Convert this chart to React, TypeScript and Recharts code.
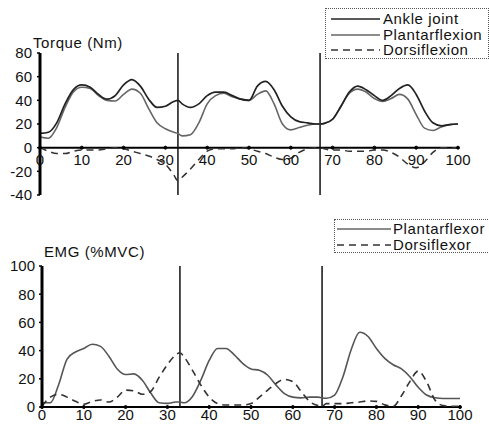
import React from 'react';
import { LineChart, Line, XAxis, YAxis, ReferenceLine, ReferenceDot, Legend } from 'recharts';

// gait cycle (%) sample points
const X = [0, 2, 4, 6, 8, 10, 12, 14, 16, 18, 20, 22, 24, 26, 28, 30, 32, 33, 34, 36, 38, 40, 42, 44, 46, 48, 50, 52, 54, 56, 58, 60, 62, 64, 66, 67, 68, 70, 72, 74, 76, 78, 80, 82, 84, 86, 88, 90, 92, 94, 96, 98, 100];

// Torque (Nm)
const ANKLE_JOINT = [12, 13, 21, 37, 49, 53, 51, 45, 41, 44, 53, 57.5, 52, 41, 34, 35, 39, 40, 37, 34, 37, 44, 47, 47, 44, 41, 40, 52, 56, 49, 35, 26, 22, 21, 20, 20, 20.5, 24, 35, 47, 52, 49, 44, 40, 44, 50, 53, 45, 31, 21, 18.5, 19.5, 20];
const PLANTARFLEXION = [9, 8, 17, 34, 47, 51, 50, 44, 40, 39.5, 45, 49.5, 46, 33, 21, 16, 13, 12, 10, 11, 21, 37, 44, 46, 43, 41, 40, 45, 48, 37, 20, 15, 17, 19, 20, 20, 20.5, 24, 35, 46, 49.5, 47, 41.5, 39, 41.5, 45, 41, 28, 16.5, 14.5, 17.5, 19.5, 20];
const DORSIFLEXION = [0, -3, -5, -5, -3, -2, -2, -2, -1, 0, -1, -3, -5, -7, -10, -14, -23, -28, -25, -18, -10, -3, -1, -1, -1, 0, -1, -3, -5, -8, -10, -9, -4, -1, 0, 0, -1, -2, -2, -3, -3, -3, -2, -2, -4, -8, -14, -17, -12, -4, 0, 0, 0];

// EMG (%MVC)
const PLANTARFLEXOR = [3, 3, 16, 34, 39, 41.5, 44.5, 43, 36, 27, 23, 23.5, 19, 10, 3, 2.6, 3.5, 3.5, 3, 7.5, 19, 33, 41.5, 41.5, 37, 31, 27, 26, 22.5, 15.5, 9.5, 7, 6.5, 7, 7, 6.5, 6.2, 8.5, 21.5, 41, 53, 50, 41.5, 34.5, 30, 27, 21.5, 14, 8.5, 6.5, 6, 6, 6];
const DORSIFLEXOR = [0.5, 7, 9, 7, 4, 2, 4, 5, 3.5, 7, 12, 11.5, 9, 11, 21, 30, 37, 38.5, 35.5, 26, 15.5, 7, 2.4, 1.4, 1.4, 1.4, 2.4, 7, 12, 16.8, 19.6, 18, 11, 4, 1, 0.5, 2.4, 2.4, 2.4, 3, 3.5, 4.3, 4, 1.5, 0.5, 8, 18, 25.5, 18, 5, 1, 0.5, 0.5];

const X_TICKS = [0, 10, 20, 30, 40, 50, 60, 70, 80, 90, 100];
const TORQUE_TICKS = [-40, -20, 0, 20, 40, 60, 80];
const EMG_TICKS = [0, 20, 40, 60, 80, 100];
const PHASE_LINES = [33, 67];

const TORQUE_LEGEND = [
  { name: 'Ankle joint', color: '#222', dash: undefined as string | undefined },
  { name: 'Plantarflexion', color: '#666', dash: undefined as string | undefined },
  { name: 'Dorsiflexion', color: '#333', dash: '7 5' },
];
const EMG_LEGEND = [
  { name: 'Plantarflexor', color: '#666', dash: undefined as string | undefined },
  { name: 'Dorsiflexor', color: '#333', dash: '7 5' },
];

const torqueData = X.map((x, i) => ({
  x,
  ankle: ANKLE_JOINT[i],
  plantar: PLANTARFLEXION[i],
  dorsi: DORSIFLEXION[i],
}));
const emgData = X.map((x, i) => ({
  x,
  plantar: PLANTARFLEXOR[i],
  dorsi: DORSIFLEXOR[i],
}));

const FONT = "'Liberation Sans', Arial, Helvetica, sans-serif";

type Item = { name: string; color: string; dash?: string };

const LegendBox = ({
  items, width, height, lineX1, lineX2, textX, rowTop, rowGap,
}: {
  items: Item[]; width: number; height: number; lineX1: number; lineX2: number; textX: number; rowTop: number; rowGap: number;
}) => (
  <div
    style={{
      position: 'relative', width, height, border: '1px dotted #555', background: '#fff',
      boxSizing: 'border-box', fontFamily: FONT,
    }}
  >
    {items.map((it, i) => (
      <div
        key={it.name}
        style={{ position: 'absolute', left: 0, top: rowTop + i * rowGap, height: 14, display: 'flex', alignItems: 'center' }}
      >
        <svg width={textX} height={14} style={{ display: 'block' }}>
          <line x1={lineX1} x2={lineX2} y1={7} y2={7} stroke={it.color} strokeWidth={1.5} strokeDasharray={it.dash} />
        </svg>
        <span style={{ fontSize: 15, letterSpacing: 0.6, color: '#111', whiteSpace: 'nowrap', lineHeight: '14px' }}>
          {it.name}
        </span>
      </div>
    ))}
  </div>
);

const tickStyle = { fill: '#111', fontSize: 15, fontFamily: FONT };

export default function App() {
  return (
    <div
      style={{
        position: 'absolute', left: 0, top: 0, width: 489, height: 429, overflow: 'hidden',
        background: '#fff', fontFamily: FONT,
      }}
    >
      {/* Torque panel */}
      <div style={{ position: 'absolute', left: 0, top: 0 }}>
        <LineChart width={489} height={215} data={torqueData} margin={{ top: 53, right: 31, bottom: 20, left: 0 }}>
          <XAxis dataKey="x" type="number" domain={[0, 100]} ticks={X_TICKS} hide />
          <YAxis
            width={40}
            type="number"
            domain={[-40, 80]}
            ticks={TORQUE_TICKS}
            interval={0}
            axisLine={{ stroke: '#000', strokeWidth: 3 }}
            tickLine={{ stroke: '#000', strokeWidth: 1.5 }}
            tickSize={3}
            tickMargin={5}
            tick={tickStyle}
          />
          <ReferenceLine y={0} stroke="#000" strokeWidth={2} />
          {PHASE_LINES.map((p) => (
            <ReferenceLine key={p} x={p} stroke="#111" strokeWidth={1.5} />
          ))}
          {X_TICKS.map((t) => (
            <ReferenceDot
              key={t}
              x={t}
              y={0}
              r={1.5}
              fill="#000"
              stroke="#000"
              label={{ value: String(t), position: 'bottom', offset: 5, fill: '#111', fontSize: 15 }}
            />
          ))}
          <Line type="monotone" dataKey="plantar" stroke="#666" strokeWidth={1.6} dot={false} isAnimationActive={false} />
          <Line type="monotone" dataKey="ankle" stroke="#222" strokeWidth={1.7} dot={false} isAnimationActive={false} />
          <Line type="monotone" dataKey="dorsi" stroke="#333" strokeWidth={1.5} strokeDasharray="7 5" dot={false} isAnimationActive={false} />
          <Legend
            layout="vertical"
            align="center"
            verticalAlign="middle"
            wrapperStyle={{ top: 8, left: 325, width: 164 }}
            content={() => (
              <LegendBox items={TORQUE_LEGEND} width={164} height={51} lineX1={5} lineX2={54} textX={57} rowTop={3} rowGap={15.5} />
            )}
          />
        </LineChart>
        <div style={{ position: 'absolute', left: 33, top: 35, fontSize: 15, lineHeight: '15px', letterSpacing: 0.6, color: '#111', whiteSpace: 'nowrap' }}>
          Torque (Nm)
        </div>
      </div>

      {/* EMG panel */}
      <div style={{ position: 'absolute', left: 0, top: 215 }}>
        <LineChart width={489} height={214} data={emgData} margin={{ top: 51, right: 29, bottom: 22, left: 0 }}>
          <XAxis dataKey="x" type="number" domain={[0, 100]} ticks={X_TICKS} hide />
          <YAxis
            width={42}
            type="number"
            domain={[0, 100]}
            ticks={EMG_TICKS}
            interval={0}
            axisLine={{ stroke: '#000', strokeWidth: 3 }}
            tickLine={{ stroke: '#000', strokeWidth: 1.5 }}
            tickSize={3}
            tickMargin={4}
            tick={tickStyle}
          />
          <ReferenceLine y={0} stroke="#000" strokeWidth={2} />
          {PHASE_LINES.map((p) => (
            <ReferenceLine key={p} x={p} stroke="#111" strokeWidth={1.5} />
          ))}
          {X_TICKS.map((t) => (
            <ReferenceDot
              key={t}
              x={t}
              y={0}
              r={1.5}
              fill="#000"
              stroke="#000"
              label={{ value: String(t), position: 'bottom', offset: 1, fill: '#111', fontSize: 15 }}
            />
          ))}
          <Line type="monotone" dataKey="plantar" stroke="#555" strokeWidth={1.6} dot={false} isAnimationActive={false} />
          <Line type="monotone" dataKey="dorsi" stroke="#333" strokeWidth={1.6} strokeDasharray="7 5" dot={false} isAnimationActive={false} />
          <Legend
            layout="vertical"
            align="center"
            verticalAlign="middle"
            wrapperStyle={{ top: 4, left: 334, width: 160 }}
            content={() => (
              <LegendBox items={EMG_LEGEND} width={160} height={34} lineX1={2} lineX2={56} textX={58} rowTop={2} rowGap={16} />
            )}
          />
        </LineChart>
        <div style={{ position: 'absolute', left: 44, top: 29, fontSize: 15, lineHeight: '15px', letterSpacing: 0.6, color: '#111', whiteSpace: 'nowrap' }}>
          EMG (%MVC)
        </div>
      </div>
    </div>
  );
}
